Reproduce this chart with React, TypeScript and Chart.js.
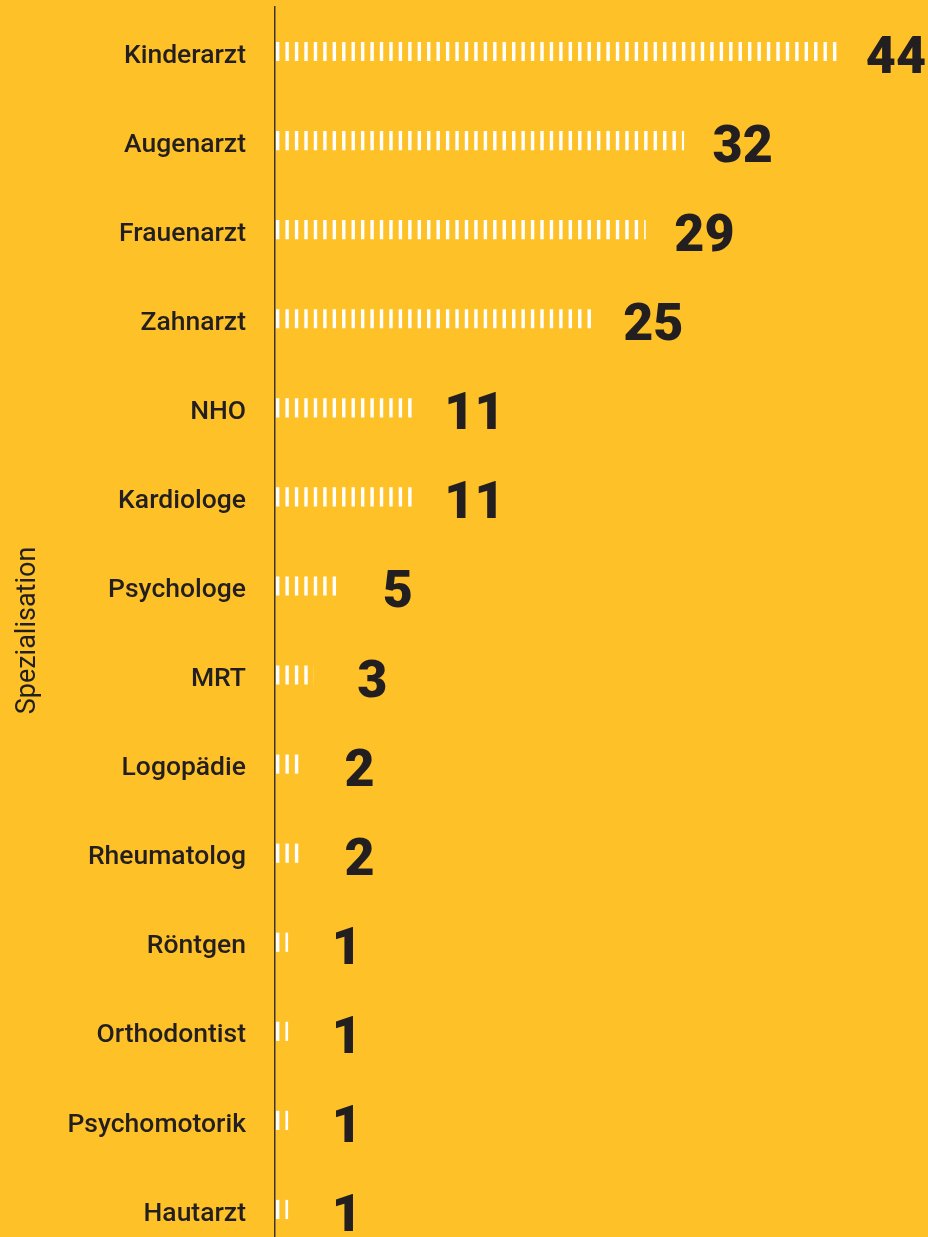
import React, { useEffect, useRef } from 'react';
import { Chart, registerables } from 'chart.js';

Chart.register(...registerables);

const categories = [
  'Kinderarzt',
  'Augenarzt',
  'Frauenarzt',
  'Zahnarzt',
  'NHO',
  'Kardiologe',
  'Psychologe',
  'MRT',
  'Logopädie',
  'Rheumatolog',
  'Röntgen',
  'Orthodontist',
  'Psychomotorik',
  'Hautarzt',
];
const counts = [44, 32, 29, 25, 11, 11, 5, 3, 2, 2, 1, 1, 1, 1];
const axisTitle = 'Spezialisation';

const BG = '#FEC228';
const INK = '#231F20';

function makeStripePattern(): CanvasPattern {
  const period = 9.44;
  const n = 25;
  const stripeW = 3.4;
  const c = document.createElement('canvas');
  c.width = Math.round(period * n);
  c.height = 8;
  const g = c.getContext('2d') as CanvasRenderingContext2D;
  g.fillStyle = '#FFFFFF';
  for (let i = 0; i < n; i++) g.fillRect(i * period, 0, stripeW, c.height);
  const p = g.createPattern(c, 'repeat') as CanvasPattern;
  return p;
}

export default function App() {
  const ref = useRef<HTMLCanvasElement | null>(null);

  useEffect(() => {
    document.body.style.margin = '0';
    document.body.style.overflow = 'hidden';
    document.body.style.background = BG;
    const canvas = ref.current;
    if (!canvas) return;
    const pattern = makeStripePattern();

    const patternPhase = {
      id: 'patternPhase',
      beforeDatasetsDraw(chart: any) {
        const x0 = chart.scales.x.getPixelForValue(0) + 1;
        pattern.setTransform(new DOMMatrix([1, 0, 0, 1, x0, 0]));
      },
    };

    const valueLabels = {
      id: 'valueLabels',
      afterDatasetsDraw(chart: any) {
        const ctx = chart.ctx as CanvasRenderingContext2D;
        const meta = chart.getDatasetMeta(0);
        ctx.save();
        ctx.font = '900 52px Roboto';
        ctx.fillStyle = INK;
        ctx.textAlign = 'center';
        ctx.textBaseline = 'alphabetic';
        meta.data.forEach((bar: any, i: number) => {
          const { x, y } = bar.getProps(['x', 'y'], true);
          ctx.fillText(String(counts[i]), x + 59, y + 21.5);
        });
        ctx.restore();
      },
    };

    const chart = new Chart(canvas, {
      type: 'bar',
      data: {
        labels: categories,
        datasets: [
          {
            data: counts,
            backgroundColor: pattern as any,
            borderWidth: 0,
            barThickness: 18.5,
          },
        ],
      },
      options: {
        indexAxis: 'y',
        animation: false,
        responsive: false,
        events: [],
        layout: { autoPadding: false, padding: { top: 7, right: 91, bottom: 2, left: 0 } },
        plugins: {
          legend: { display: false },
          tooltip: { enabled: false },
        },
        scales: {
          x: { type: 'linear', min: 0, max: 44, display: false },
          y: {
            type: 'category',
            grid: { display: false, drawTicks: false },
            border: { display: true, color: '#3a3630', width: 1.5 },
            ticks: {
              color: INK,
              font: { family: 'Roboto', size: 26.5, weight: '500' as any },
              padding: 29,
              labelOffset: 4.5,
              autoSkip: false,
            },
            title: {
              display: true,
              text: axisTitle,
              color: INK,
              font: { family: 'Roboto', size: 27, weight: '400' as any },
              padding: { top: 12, bottom: 0 },
            },
            afterFit(scale: any) {
              scale.width = 275;
              scale.paddingTop = 0;
              scale.paddingBottom = 0;
            },
          },
        },
      },
      plugins: [patternPhase, valueLabels],
    } as any);

    return () => chart.destroy();
  }, []);

  return (
    <div style={{ width: 928, height: 1237, overflow: 'hidden', background: BG }}>
      <canvas ref={ref} width={928} height={1256} style={{ display: 'block' }} />
    </div>
  );
}
